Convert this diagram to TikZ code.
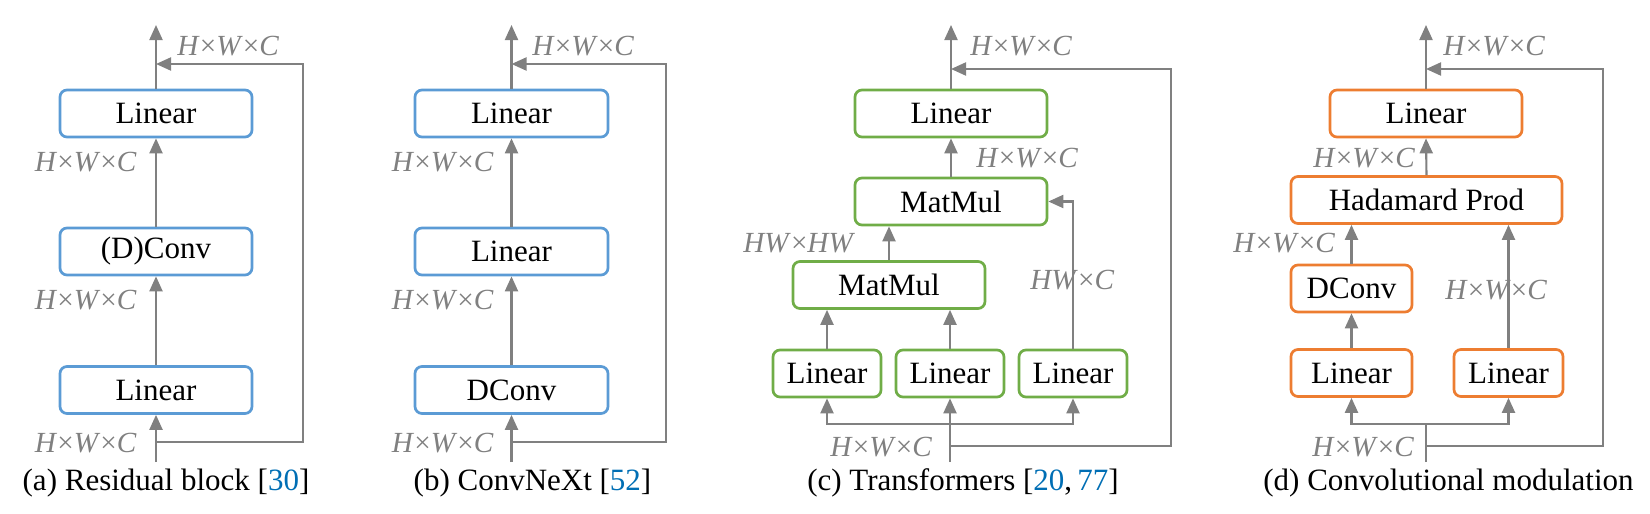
\documentclass[tikz,border=0pt]{standalone}
\usepackage{fontspec}
\setmainfont{Liberation Serif}
\usetikzlibrary{arrows.meta}
\definecolor{bblue}{RGB}{91,155,213}
\definecolor{bgreen}{RGB}{112,173,71}
\definecolor{borange}{RGB}{237,125,49}
\definecolor{lgray}{RGB}{128,128,128}
\definecolor{citeblue}{RGB}{0,110,180}
\newcommand{\hwc}{\textit{H}×\textit{W}×\textit{C}}
\newcommand{\cit}[1]{\textcolor{citeblue}{#1}}
\begin{document}
\begin{tikzpicture}[x=0.5pt,y=-0.5pt,
  font=\fontsize{15.5}{18}\selectfont,
  blk/.style={draw, line width=1.35pt, rounded corners=3.5pt, inner sep=0pt, minimum height=23.5pt, fill=white},
  ablk/.style={blk, draw=bblue},
  gblk/.style={blk, draw=bgreen},
  oblk/.style={blk, draw=borange},
  arr/.style={draw=lgray, line width=1.05pt, -{Triangle[length=7.5pt,width=6.5pt]}},
  ln/.style={draw=lgray, line width=1.05pt},
  lbl/.style={text=lgray, inner sep=0pt, font=\fontsize{14.6}{17}\selectfont},
  captxt/.style={inner sep=0pt}]
\useasboundingbox (0,0) rectangle (1650,514);
% ---------- (a) ----------
\node[ablk, minimum width=96pt] (aL1) at (156,390) {Linear};
\node[ablk, minimum width=96pt] (aC) at (156,251.5) {(D)Conv};
\node[ablk, minimum width=96pt] (aL2) at (156,113.5) {Linear};
\coordinate (ain) at (156,462);
\coordinate (aout) at (156,25);
\coordinate (asplit) at (156,442);
\coordinate (ajoin) at (156,64);
\coordinate (ar1) at (303,442);
\coordinate (ar2) at (303,64);
\draw[arr] (ain) -- (aL1.south);
\draw[arr] (aL1.north) -- (aC.south);
\draw[arr] (aC.north) -- (aL2.south);
\draw[arr] (aL2.north) -- (aout);
\draw[arr] (asplit) -- (ar1) -- (ar2) -- (ajoin);
\node[lbl, anchor=west] (al0) at (177,46) {\hwc};
\node[lbl, anchor=east] (al1) at (137,162) {\hwc};
\node[lbl, anchor=east] (al2) at (137,300) {\hwc};
\node[lbl, anchor=east] (al3) at (137,443) {\hwc};
\node[captxt] (acap) at (166,483) {(a) Residual block [\cit{30}]};
% ---------- (b) ----------
\node[ablk, minimum width=96.5pt] (bC) at (511.5,390) {DConv};
\node[ablk, minimum width=96.5pt] (bL1) at (511.5,251.5) {Linear};
\node[ablk, minimum width=96.5pt] (bL2) at (511.5,113.5) {Linear};
\coordinate (bin) at (511.5,462);
\coordinate (bout) at (511.5,25);
\coordinate (bsplit) at (511.5,442);
\coordinate (bjoin) at (511.5,64);
\coordinate (br1) at (666,442);
\coordinate (br2) at (666,64);
\draw[arr] (bin) -- (bC.south);
\draw[arr] (bC.north) -- (bL1.south);
\draw[arr] (bL1.north) -- (bL2.south);
\draw[arr] (bL2.north) -- (bout);
\draw[arr] (bsplit) -- (br1) -- (br2) -- (bjoin);
\node[lbl, anchor=west] (bl0) at (532,46) {\hwc};
\node[lbl, anchor=east] (bl1) at (494,162) {\hwc};
\node[lbl, anchor=east] (bl2) at (494,300) {\hwc};
\node[lbl, anchor=east] (bl3) at (494,443) {\hwc};
\node[captxt] (bcap) at (532.5,483) {(b) ConvNeXt [\cit{52}]};
% ---------- (c) ----------
\node[gblk, minimum width=54pt] (cQ) at (827,373.5) {Linear};
\node[gblk, minimum width=54pt] (cK) at (950,373.5) {Linear};
\node[gblk, minimum width=54pt] (cV) at (1073,373.5) {Linear};
\node[gblk, minimum width=96pt] (cM1) at (889,285) {MatMul};
\node[gblk, minimum width=96pt] (cM2) at (951,201.5) {MatMul};
\node[gblk, minimum width=96pt] (cL) at (951,113.5) {Linear};
\coordinate (cin) at (950,462);
\coordinate (cdist) at (950,424);
\coordinate (cout) at (951,25);
\coordinate (csplit) at (950,446);
\coordinate (cjoin) at (951,69);
\coordinate (cr1) at (1171,446);
\coordinate (cr2) at (1171,69);
\draw[arr] (cin) -- (cK.south);
\draw[arr] (cdist) -| (cQ.south);
\draw[arr] (cdist) -| (cV.south);
\draw[arr] (cQ.north) -- (cQ.north |- cM1.south);
\draw[arr] (cK.north) -- (cK.north |- cM1.south);
\draw[arr] (cM1.north) -- (cM1.north |- cM2.south);
\draw[arr] (cV.north) |- (cM2.east);
\draw[arr] (cM2.north) -- (cL.south);
\draw[arr] (cL.north) -- (cout);
\draw[arr] (csplit) -- (cr1) -- (cr2) -- (cjoin);
\node[lbl, anchor=west] (cl0) at (970,46) {\hwc};
\node[lbl, anchor=west] (cl1) at (976,158) {\hwc};
\node[lbl, anchor=west] (cl2) at (743,243) {\textit{HW}×\textit{HW}};
\node[lbl, anchor=west] (cl3) at (1030,280) {\textit{HW}×\textit{C}};
\node[lbl, anchor=west] (cl4) at (830,447) {\hwc};
\node[captxt] (ccap) at (963,483) {(c) Transformers [\cit{20},\,\cit{77}]};
% ---------- (d) ----------
\node[oblk, minimum width=60.5pt] (dA) at (1351.5,373) {Linear};
\node[oblk, minimum width=54.5pt] (dB) at (1508.5,373) {Linear};
\node[oblk, minimum width=60.5pt] (dC) at (1351.5,288.5) {DConv};
\node[oblk, minimum width=135.5pt] (dH) at (1426.5,200) {Hadamard Prod};
\node[oblk, minimum width=96pt] (dL) at (1426,113.5) {Linear};
\coordinate (din) at (1426,462);
\coordinate (ddist) at (1426,424);
\coordinate (dout) at (1426,25);
\coordinate (dsplit) at (1426,446);
\coordinate (djoin) at (1426,69);
\coordinate (dr1) at (1603,446);
\coordinate (dr2) at (1603,69);
\draw[ln] (din) -- (ddist);
\draw[arr] (ddist) -| (dA.south);
\draw[arr] (ddist) -| (dB.south);
\draw[arr] (dA.north) -- (dC.south);
\draw[arr] (dC.north) -- (dC.north |- dH.south);
\draw[arr] (dB.north) -- (dB.north |- dH.south);
\draw[arr] (dH.north) -- (dL.south);
\draw[arr] (dL.north) -- (dout);
\draw[arr] (dsplit) -- (dr1) -- (dr2) -- (djoin);
\node[lbl, anchor=west] (dl0) at (1443,46) {\hwc};
\node[lbl, anchor=west] (dl1) at (1313,158) {\hwc};
\node[lbl, anchor=west] (dl2) at (1233,243) {\hwc};
\node[lbl, anchor=west] (dl3) at (1445,290) {\hwc};
\node[lbl, anchor=west] (dl4) at (1312,447) {\hwc};
\node[captxt] (dcap) at (1448.5,483) {(d) Convolutional modulation};
\end{tikzpicture}
\end{document}
